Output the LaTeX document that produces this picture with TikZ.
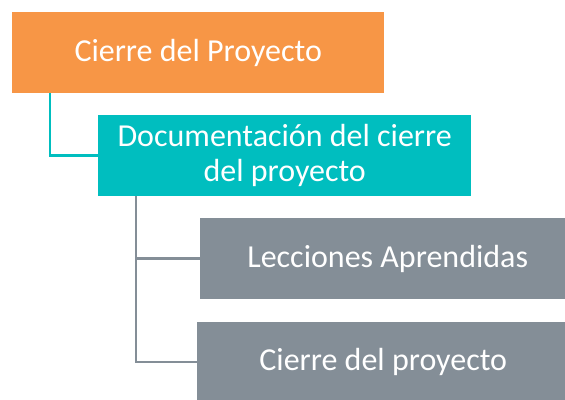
\documentclass[tikz,border=0pt]{standalone}
\usepackage{fontspec}
\setmainfont{Carlito}
\definecolor{orng}{HTML}{F79646}
\definecolor{tealc}{HTML}{00BEBF}
\definecolor{gry}{HTML}{848E97}
\begin{document}
\begin{tikzpicture}[x=1pt,y=-1pt,
  box/.style={rectangle, anchor=north west, minimum width=372pt, minimum height=81pt,
    inner sep=0pt, text=white, align=center, font=\fontsize{32}{35}\selectfont},
  conn/.style={line width=2.5pt}]
\useasboundingbox (0,0) rectangle (565,399);
\clip (0,0) rectangle (565,399);
\node[box, fill=orng] (o) at (12,12) {Cierre del Proyecto};
\node[box, fill=tealc, minimum width=373pt] (t) at (98,115) {Documentación del cierre\\del proyecto};
\node[box, fill=gry, minimum width=375pt] (g1) at (200,218) {Lecciones Aprendidas};
\node[box, fill=gry, minimum width=372pt, minimum height=80pt] (g2) at (197,322) {Cierre del proyecto};
\draw[conn, tealc] ([xshift=38pt]o.south west) |- (t.west);
\draw[conn, gry] ([xshift=38pt]t.south west) |- (g1.west);
\draw[conn, gry] ([xshift=38pt]t.south west) |- (g2.west);
\end{tikzpicture}
\end{document}
